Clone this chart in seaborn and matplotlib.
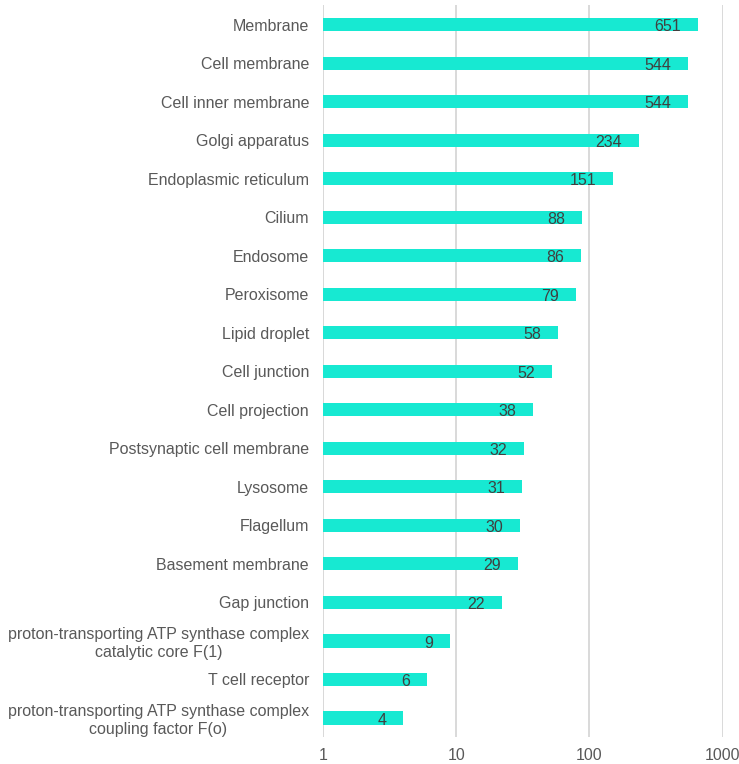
import matplotlib
matplotlib.use("Agg")
import matplotlib.pyplot as plt
import seaborn as sns
import pandas as pd

categories = [
    "Membrane", "Cell membrane", "Cell inner membrane", "Golgi apparatus",
    "Endoplasmic reticulum", "Cilium", "Endosome", "Peroxisome",
    "Lipid droplet", "Cell junction", "Cell projection",
    "Postsynaptic cell membrane", "Lysosome", "Flagellum",
    "Basement membrane", "Gap junction",
    "proton-transporting ATP synthase complex\ncatalytic core F(1)",
    "T cell receptor",
    "proton-transporting ATP synthase complex\ncoupling factor F(o)",
]
counts = [651, 544, 544, 234, 151, 88, 86, 79, 58, 52, 38, 32, 31, 30, 29, 22, 9, 6, 4]
x_ticks = [1, 10, 100, 1000]
x_tick_labels = ["1", "10", "100", "1000"]

df = pd.DataFrame({"category": categories, "count": counts})

sns.set_theme(style="white")
plt.rcParams["font.family"] = ["Liberation Sans", "DejaVu Sans"]

fig = plt.figure(figsize=(7.39, 7.64), dpi=100)
ax = fig.add_axes([0.437, 0.035, 0.541, 0.958])

sns.barplot(data=df, x="count", y="category", orient="h", color="#17e9d2",
            saturation=1, width=0.34, ax=ax, linewidth=0)

# bars start at the log axis origin (1)
for p in ax.patches:
    w = p.get_x() + p.get_width()
    p.set_x(1)
    p.set_width(w - 1)

ax.set_xscale("log")
ax.set_xlim(1, 1000)
ax.set_ylim(len(categories) - 0.5, -0.5)
ax.set_xticks(x_ticks)
ax.set_xticklabels(x_tick_labels)
ax.minorticks_off()
ax.grid(axis="x", color="#d9d9d9", linewidth=1.4)
ax.set_axisbelow(True)
for s in ax.spines.values():
    s.set_visible(False)
ax.axvline(1, color="#d9d9d9", linewidth=1.4, zorder=0)
ax.set_xlabel("")
ax.set_ylabel("")
ax.tick_params(axis="both", length=0, labelsize=11.5, colors="#595959")
ax.tick_params(axis="y", pad=10)
ax.tick_params(axis="x", pad=8)
for lbl in ax.get_yticklabels():
    lbl.set_horizontalalignment("right")
    lbl.set_multialignment("center")

for i, v in enumerate(counts):
    ax.annotate(str(v), xy=(v, i), xytext=(-12, -1.5), textcoords="offset points",
                ha="right", va="center", fontsize=11.5, color="#404040")

fig.savefig("out.png", dpi=100)
